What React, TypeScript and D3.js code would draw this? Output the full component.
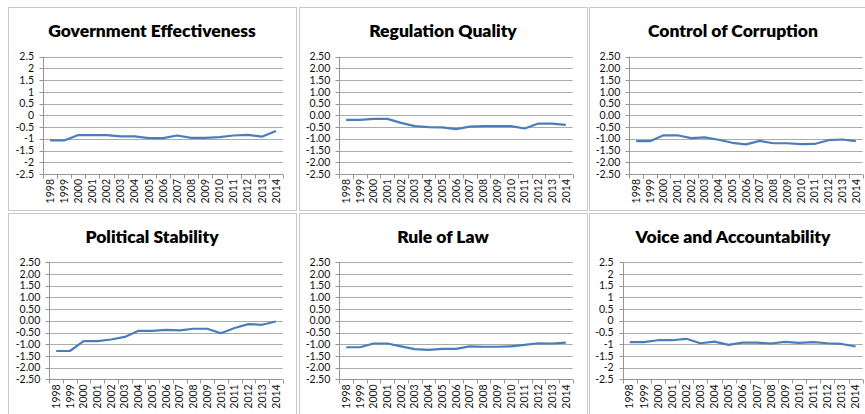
import React from "react";
import * as d3 from "d3";

const years = ["1998","1999","2000","2001","2002","2003","2004","2005","2006","2007","2008","2009","2010","2011","2012","2013","2014"];
const yTicks = [-2.5, -2, -1.5, -1, -0.5, 0, 0.5, 1, 1.5, 2, 2.5];

const governmentEffectiveness = [-1.07,-1.07,-0.84,-0.84,-0.84,-0.9,-0.9,-0.97,-0.97,-0.86,-0.96,-0.96,-0.93,-0.86,-0.83,-0.91,-0.67];
const regulationQuality = [-0.19,-0.19,-0.15,-0.15,-0.32,-0.46,-0.5,-0.51,-0.59,-0.48,-0.46,-0.46,-0.46,-0.56,-0.35,-0.35,-0.41];
const controlOfCorruption = [-1.1,-1.1,-0.85,-0.85,-0.97,-0.94,-1.04,-1.17,-1.24,-1.09,-1.19,-1.19,-1.23,-1.22,-1.06,-1.03,-1.1];
const politicalStability = [-1.29,-1.29,-0.87,-0.87,-0.8,-0.69,-0.43,-0.43,-0.39,-0.41,-0.34,-0.34,-0.53,-0.31,-0.14,-0.17,-0.03];
const ruleOfLaw = [-1.13,-1.13,-0.97,-0.97,-1.09,-1.21,-1.24,-1.2,-1.2,-1.09,-1.11,-1.11,-1.09,-1.03,-0.96,-0.97,-0.93];
const voiceAndAccountability = [-0.91,-0.91,-0.83,-0.83,-0.77,-0.96,-0.89,-1.03,-0.93,-0.93,-0.97,-0.9,-0.94,-0.91,-0.96,-0.99,-1.1];

const titles = ["Government Effectiveness","Regulation Quality","Control of Corruption","Political Stability","Rule of Law","Voice and Accountability"];

const W = 865, H = 414;
const FONT = "Lato, 'Open Sans', sans-serif";
const LINE_COLOR = "#4a7ebb";
const GRID_COLOR = "#acacac";
const AXIS_COLOR = "#959595";
const BORDER_COLOR = "#c8c8c8";

const fmtShort = (v: number) => String(v);
const fmtFixed = (v: number) => v.toFixed(2);

type Panel = {
  title: string;
  values: number[];
  fmt: (v: number) => string;
  box: [number, number, number, number];
  plot: [number, number, number, number];
  titleY: number;
};

const panels: Panel[] = [
  { title: titles[0], values: governmentEffectiveness, fmt: fmtShort, box: [8, 7, 296, 210], plot: [43, 56.7, 283, 174], titleY: 37 },
  { title: titles[1], values: regulationQuality, fmt: fmtFixed, box: [299, 7, 587, 210], plot: [339.3, 56.7, 572.7, 174], titleY: 37 },
  { title: titles[2], values: controlOfCorruption, fmt: fmtFixed, box: [589, 7, 877, 210], plot: [629.3, 56.7, 862.7, 174], titleY: 37 },
  { title: titles[3], values: politicalStability, fmt: fmtFixed, box: [8, 213, 296, 430], plot: [49.3, 262.3, 282.7, 379.3], titleY: 243 },
  { title: titles[4], values: ruleOfLaw, fmt: fmtFixed, box: [299, 213, 587, 430], plot: [339.3, 262.3, 572.7, 379.3], titleY: 243 },
  { title: titles[5], values: voiceAndAccountability, fmt: fmtShort, box: [589, 213, 877, 430], plot: [622.7, 262.3, 862.7, 379.3], titleY: 243 },
];

function ChartPanel({ p }: { p: Panel }) {
  const [px0, py0, px1, py1] = p.plot;
  const x = d3.scaleBand<string>().domain(years).range([px0, px1]).padding(0);
  const y = d3.scaleLinear().domain([-2.5, 2.5]).range([py1, py0]);
  const line = d3
    .line<number>()
    .x((_, i) => (x(years[i]) as number) + x.bandwidth() / 2)
    .y((d) => y(d));
  const [bx0, by0, bx1, by1] = p.box;
  const axisX = Math.round(px0) + 0.5;
  const axisY = Math.round(py1) + 0.5;
  const boundaries = years.map((yr) => x(yr) as number).concat([px1]);
  return (
    <g>
      <rect x={bx0 + 0.5} y={by0 + 0.5} width={bx1 - bx0} height={by1 - by0} fill="#fff" stroke={BORDER_COLOR} strokeWidth={1} />
      <text x={(bx0 + bx1) / 2} y={p.titleY} textAnchor="middle" fontFamily={FONT} fontWeight={800} fontSize={17.5} fill="#000">
        {p.title}
      </text>
      {yTicks.map((t) => {
        const yy = Math.round(y(t)) + 0.5;
        return (
          <g key={t}>
            {t !== -2.5 && <line x1={axisX} x2={px1} y1={yy} y2={yy} stroke={GRID_COLOR} strokeWidth={1} />}
            <line x1={axisX - 4} x2={axisX} y1={yy} y2={yy} stroke={AXIS_COLOR} strokeWidth={1} />
            <text x={px0 - 9} y={y(t)} dy="0.35em" textAnchor="end" fontFamily={FONT} fontSize={10.5} fill="#111">
              {p.fmt(t)}
            </text>
          </g>
        );
      })}
      <line x1={axisX} x2={axisX} y1={py0} y2={axisY} stroke={AXIS_COLOR} strokeWidth={1} />
      <line x1={axisX} x2={px1} y1={axisY} y2={axisY} stroke={AXIS_COLOR} strokeWidth={1} />
      {boundaries.map((bx, i) => (
        <line key={i} x1={Math.round(bx) + 0.5} x2={Math.round(bx) + 0.5} y1={axisY} y2={axisY + 4} stroke={AXIS_COLOR} strokeWidth={1} />
      ))}
      {years.map((yr) => {
        const cx = (x(yr) as number) + x.bandwidth() / 2;
        return (
          <text key={yr} transform={`translate(${cx},${py1 + 5}) rotate(-90)`} dy="0.35em" textAnchor="end" fontFamily={FONT} fontSize={10.5} fill="#111">
            {yr}
          </text>
        );
      })}
      <path d={line(p.values) || ""} fill="none" stroke={LINE_COLOR} strokeWidth={2.2} strokeLinejoin="round" />
    </g>
  );
}

export default function App() {
  return (
    <div style={{ position: "fixed", left: 0, top: 0, width: W, height: H, background: "#fff" }}>
      <svg width={W} height={H} viewBox={`0 0 ${W} ${H}`} style={{ display: "block" }}>
        <rect x={0} y={0} width={W} height={H} fill="#fff" />
        {panels.map((p, i) => (
          <ChartPanel key={i} p={p} />
        ))}
      </svg>
    </div>
  );
}
